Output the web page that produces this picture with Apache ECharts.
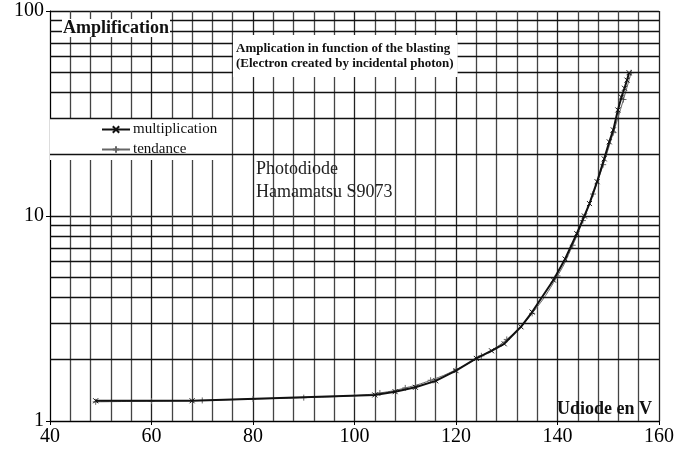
<!DOCTYPE html>
<html>
<head>
<meta charset="utf-8">
<script src="https://cdn.jsdelivr.net/npm/echarts@6/dist/echarts.min.js"></script>
<style>
  html, body { margin: 0; padding: 0; background: #fff; }
  #chart { width: 690px; height: 451px; }
</style>
</head>
<body>
<div id="chart"></div>
<script>
const multVolts = [49, 68, 104, 108, 112, 116, 120, 124, 127, 129.5, 132.8, 135, 139.2, 141.5, 143.8, 145.3, 146.3, 147.8, 149.2, 150.2, 151, 151.9, 152.6, 153.2, 153.7, 154.1];
const multGain = [1.255, 1.255, 1.34, 1.39, 1.46, 1.57, 1.76, 2.02, 2.2, 2.38, 2.88, 3.4, 4.87, 6.17, 8.2, 10.0, 11.5, 14.7, 19.0, 23.0, 26.3, 32.9, 38, 42, 46, 50];

// courbe de tendance
const trendVolts = [49, 60, 70, 80, 90, 100, 105, 110, 115, 120, 125, 130, 135, 140, 143, 145, 147, 149, 151, 153, 154.5];
const trendGain = [1.24, 1.25, 1.26, 1.28, 1.3, 1.33, 1.37, 1.45, 1.58, 1.78, 2.08, 2.5, 3.35, 5.1, 7.2, 9.5, 12.8, 17.8, 25.5, 37, 50];

// lignes intermédiaires du papier log
const logMinorTicks = [2, 3, 4, 5, 6, 7, 8, 9, 20, 30, 40, 50, 60, 70, 80, 90];

const serif = 'Liberation Serif';
const zip = (xs, ys) => xs.map((x, i) => [x, ys[i]]);

const chart = echarts.init(document.getElementById('chart'));

chart.setOption({
  animation: false,
  backgroundColor: '#fff',
  textStyle: { fontFamily: serif },
  grid: { left: 50, right: 31, top: 11, bottom: 30 },
  title: [
    {
      text: 'Amplification',
      left: 62,
      top: 22,
      padding: [0, 1, 0, 1],
      backgroundColor: '#fff',
      textStyle: { fontFamily: serif, fontSize: 18, fontWeight: 'bold', color: '#111', lineHeight: 12 },
    },
    {
      text: 'Amplication in function of the blasting\n(Electron created by incidental photon)',
      left: 233,
      top: 35,
      padding: [6, 4, 6, 3],
      backgroundColor: '#fff',
      textStyle: { fontFamily: serif, fontSize: 13, fontWeight: 'bold', color: '#111', lineHeight: 15 },
    },
    {
      text: 'Photodiode\nHamamatsu S9073',
      left: 256,
      top: 158,
      padding: 0,
      textStyle: { fontFamily: serif, fontSize: 18, fontWeight: 'normal', color: '#222', lineHeight: 23 },
    },
    {
      text: 'Udiode en V',
      right: 38,
      top: 400,
      padding: 0,
      textStyle: { fontFamily: serif, fontSize: 18, fontWeight: 'bold', color: '#111' },
    },
  ],
  legend: {
    data: ['multiplication', 'tendance'],
    orient: 'vertical',
    left: 50,
    top: 119,
    padding: [3, 14, 3, 51],
    itemGap: 5,
    itemWidth: 28,
    itemHeight: 8,
    backgroundColor: '#fff',
    textStyle: { fontFamily: serif, fontSize: 15, lineHeight: 12, color: '#111', padding: [0, 0, 0, -2] },
  },
  xAxis: {
    type: 'value',
    min: 40,
    max: 160,
    interval: 20,
    axisLine: { lineStyle: { color: '#000', width: 1 } },
    axisTick: { show: true, length: 4, lineStyle: { color: '#000' } },
    axisLabel: { fontFamily: serif, fontSize: 20, color: '#000', margin: 6 },
    splitLine: { show: true, lineStyle: { color: '#222', width: 1.3 } },
    minorTick: { show: false, splitNumber: 5 },
    minorSplitLine: { show: true, lineStyle: { color: '#444', width: 1.3 } },
  },
  yAxis: {
    type: 'log',
    logBase: 10,
    min: 1,
    max: 100,
    axisLine: { show: true, lineStyle: { color: '#000', width: 1 } },
    axisTick: { show: true, length: 4, lineStyle: { color: '#000' } },
    axisLabel: { fontFamily: serif, fontSize: 20, color: '#000', margin: 6 },
    splitLine: { show: true, lineStyle: { color: '#111', width: 1.3 } },
  },
  series: [
    {
      name: 'grille',
      type: 'line',
      data: [],
      z: 1,
      silent: true,
      markLine: {
        silent: true,
        symbol: 'none',
        label: { show: false },
        lineStyle: { color: '#111', width: 1.3, type: 'solid' },
        data: logMinorTicks.map((v) => ({ yAxis: v })),
      },
    },
    {
      name: 'tendance',
      type: 'line',
      smooth: true,
      data: zip(trendVolts, trendGain),
      symbol: 'path://M0,-1L0,1M-1,0L1,0',
      symbolSize: 6,
      lineStyle: { color: '#666', width: 1 },
      itemStyle: { color: '#666', borderColor: '#666', borderWidth: 1 },
      z: 3,
    },
    {
      name: 'multiplication',
      type: 'line',
      data: zip(multVolts, multGain),
      symbol: 'path://M-1,-1L1,1M-1,1L1,-1',
      symbolSize: 5,
      lineStyle: { color: '#111', width: 2 },
      itemStyle: { color: '#111', borderColor: '#111', borderWidth: 1 },
      z: 4,
    },
  ],
});
</script>
</body>
</html>
